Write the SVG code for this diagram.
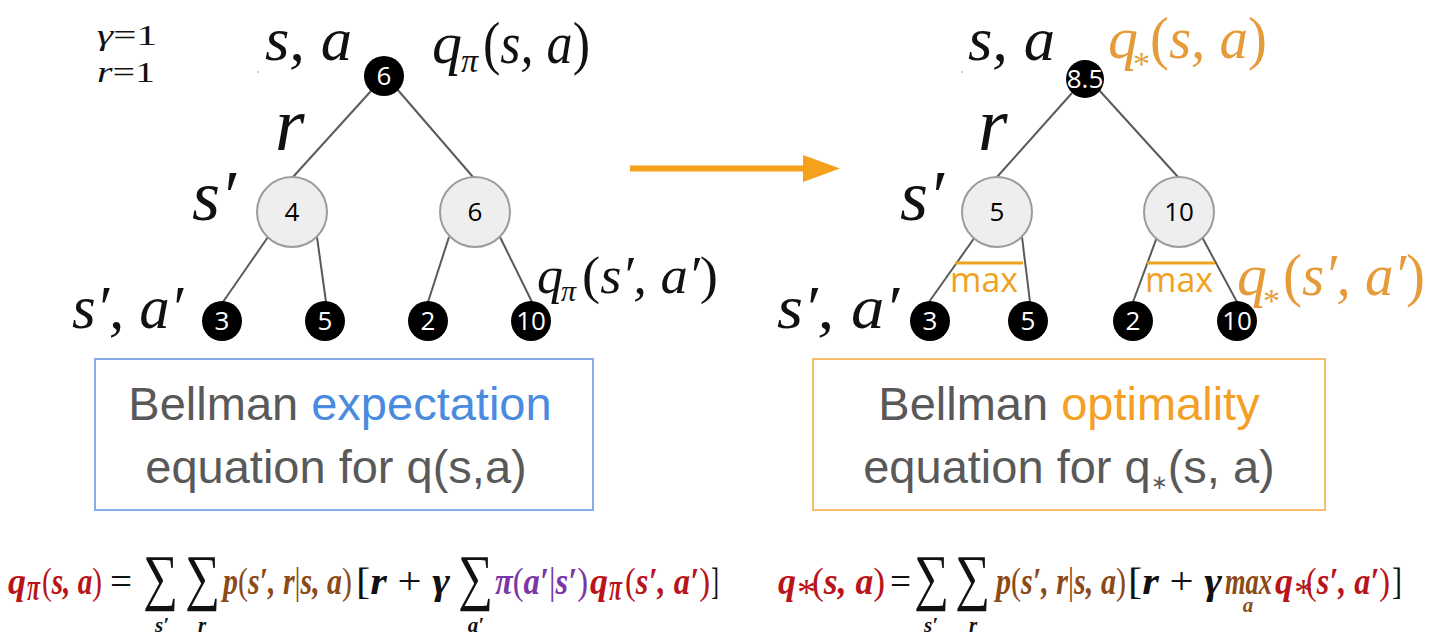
<svg xmlns="http://www.w3.org/2000/svg" width="1440" height="636" viewBox="0 0 1440 636">
<style>
.edge{stroke:#5a5a5a;stroke-width:2;fill:none}
.blk{fill:#000}
.gry{fill:#eeeeee;stroke:#9c9c9c;stroke-width:2}
.num{font-family:"Open Sans","Liberation Sans",sans-serif;font-size:26px;text-anchor:middle}
.wn{fill:#fff}
.m{font-family:"Liberation Serif",serif;font-style:italic;fill:#111}
.up{font-style:normal}
.or{fill:#e59b3a}
.maxbar{stroke:#f0a21e;stroke-width:3}
.maxt{font-family:"Open Sans","Liberation Sans",sans-serif;font-size:34px;fill:#f0a21e}
.box{fill:none;stroke-width:2}
.bt{font-family:"Liberation Sans",Arial,sans-serif;font-size:47px;fill:#595959;text-anchor:middle}
.f{font-family:"Liberation Serif",serif;font-style:italic;font-weight:bold;font-size:38px}
.n{font-style:normal;font-weight:normal}
.sig{font-family:"Liberation Serif","DejaVu Serif",serif;font-size:62px;fill:#111}
.sub{font-family:"Liberation Serif",serif;font-style:italic;font-weight:bold;font-size:21px;text-anchor:middle;fill:#111}
.red{fill:#b8141a}
.brn{fill:#8c4a16}
.pur{fill:#7a36a6}
.k{fill:#111}
</style>

<g id="params">
<text class="m" x="97" y="45" font-size="30" textLength="60" lengthAdjust="spacingAndGlyphs">γ<tspan class="up">=1</tspan></text>
<text class="m" x="97" y="82" font-size="30" textLength="58" lengthAdjust="spacingAndGlyphs">r<tspan class="up">=1</tspan></text>
</g>

<g id="connectors">
<line class="edge" x1="371" y1="91" x2="293" y2="177"/>
<line class="edge" x1="397" y1="89" x2="473" y2="177"/>
<line class="edge" x1="268" y1="237" x2="223" y2="302"/>
<line class="edge" x1="317" y1="237" x2="326" y2="302"/>
<line class="edge" x1="449" y1="237" x2="428" y2="302"/>
<line class="edge" x1="500" y1="237" x2="532" y2="302"/>
<line class="edge" x1="1072" y1="93" x2="997" y2="177"/>
<line class="edge" x1="1099" y1="90" x2="1178" y2="177"/>
<line class="edge" x1="975" y1="237" x2="929" y2="302"/>
<line class="edge" x1="1022" y1="237" x2="1030" y2="302"/>
<line class="edge" x1="1157" y1="237" x2="1133" y2="302"/>
<line class="edge" x1="1202" y1="237" x2="1237" y2="302"/>
<g id="arrow">
<line x1="630" y1="168.5" x2="806" y2="168.5" stroke="#f5a11c" stroke-width="6"/>
<polygon points="803,155 840,168.5 803,182" fill="#f5a11c"/>
</g>
</g>

<g id="left-tree">
<circle cx="258" cy="72" r="1" fill="#bbb"/>
<text class="m" x="265" y="60" font-size="62" textLength="87" lengthAdjust="spacingAndGlyphs">s, a</text>
<text class="m" x="432" y="63" font-size="60">q</text>
<text class="m" x="461" y="72" font-size="34">π</text>
<text class="m" x="483" y="63" font-size="60" textLength="107" lengthAdjust="spacingAndGlyphs"><tspan class="up">(</tspan>s, a<tspan class="up">)</tspan></text>
<text class="m" x="275" y="150" font-size="76">r</text>
<text class="m" x="192" y="220" font-size="72">s′</text>
<text class="m" x="72" y="328" font-size="62" textLength="111" lengthAdjust="spacingAndGlyphs">s′, a′</text>
<text class="m" x="537" y="293" font-size="52">q</text>
<text class="m" x="561" y="301" font-size="30">π</text>
<text class="m" x="582" y="293" font-size="52" textLength="136" lengthAdjust="spacingAndGlyphs"><tspan class="up">(</tspan>s′, a′<tspan class="up">)</tspan></text>
<g id="L-root"><circle class="blk" cx="384" cy="76" r="20"/><text class="num wn" x="384" y="85">6</text></g>
<g id="L-s1"><circle class="gry" cx="292" cy="212" r="35"/><text class="num" x="292" y="221">4</text></g>
<g id="L-s2"><circle class="gry" cx="475" cy="212" r="35"/><text class="num" x="475" y="221">6</text></g>
<g id="L-a1"><circle class="blk" cx="222" cy="321" r="20"/><text class="num wn" x="222" y="330">3</text></g>
<g id="L-a2"><circle class="blk" cx="325" cy="321" r="20"/><text class="num wn" x="325" y="330">5</text></g>
<g id="L-a3"><circle class="blk" cx="428" cy="321" r="20"/><text class="num wn" x="428" y="330">2</text></g>
<g id="L-a4"><circle class="blk" cx="531" cy="321" r="20"/><text class="num wn" x="531" y="330">10</text></g>
</g>

<g id="right-tree">
<circle cx="962" cy="72" r="1" fill="#bbb"/>
<text class="m" x="968" y="60" font-size="62" textLength="87" lengthAdjust="spacingAndGlyphs">s, a</text>
<text class="m or" x="1108" y="58" font-size="60">q</text>
<text class="m or up" x="1133" y="75" font-size="34">*</text>
<text class="m or" x="1150" y="58" font-size="60" textLength="117" lengthAdjust="spacingAndGlyphs"><tspan class="up">(</tspan>s, a<tspan class="up">)</tspan></text>
<text class="m" x="978" y="150" font-size="76">r</text>
<text class="m" x="900" y="220" font-size="72">s′</text>
<text class="m" x="777" y="328" font-size="62" textLength="122" lengthAdjust="spacingAndGlyphs">s′, a′</text>
<text class="m or" x="1237" y="295" font-size="60">q</text>
<text class="m or up" x="1263" y="312" font-size="34">*</text>
<text class="m or" x="1283" y="295" font-size="60" textLength="142" lengthAdjust="spacingAndGlyphs"><tspan class="up">(</tspan>s′, a′<tspan class="up">)</tspan></text>
<line class="maxbar" x1="955" y1="263" x2="1023" y2="263"/>
<line class="maxbar" x1="1147" y1="263" x2="1215" y2="263"/>
<text class="maxt" x="950" y="292" textLength="68" lengthAdjust="spacingAndGlyphs">max</text>
<text class="maxt" x="1145" y="292" textLength="68" lengthAdjust="spacingAndGlyphs">max</text>
<g id="R-root"><circle class="blk" cx="1085" cy="79" r="19"/><text class="num wn" x="1085" y="88">8.5</text></g>
<g id="R-s1"><circle class="gry" cx="997" cy="212" r="35"/><text class="num" x="997" y="221">5</text></g>
<g id="R-s2"><circle class="gry" cx="1179" cy="212" r="35"/><text class="num" x="1179" y="221">10</text></g>
<g id="R-a1"><circle class="blk" cx="930" cy="321" r="20"/><text class="num wn" x="930" y="330">3</text></g>
<g id="R-a2"><circle class="blk" cx="1028" cy="321" r="20"/><text class="num wn" x="1028" y="330">5</text></g>
<g id="R-a3"><circle class="blk" cx="1133" cy="321" r="20"/><text class="num wn" x="1133" y="330">2</text></g>
<g id="R-a4"><circle class="blk" cx="1237" cy="321" r="20"/><text class="num wn" x="1237" y="330">10</text></g>
</g>

<g id="box-expectation">
<rect class="box" x="95" y="359" width="498" height="151" stroke="#86acE4"/>
<text class="bt" x="340" y="420">Bellman <tspan fill="#4a8be0">expectation</tspan></text>
<text class="bt" x="336" y="483">equation for q(s,a)</text>
</g>

<g id="box-optimality">
<rect class="box" x="813" y="359" width="512" height="151" stroke="#f6be6c"/>
<text class="bt" x="1069" y="420">Bellman <tspan fill="#f4a024">optimality</tspan></text>
<text class="bt" x="1069" y="483">equation for q<tspan font-size="20" dy="6">∗</tspan><tspan dy="-6">(s, a)</tspan></text>
</g>

<g id="formula-expectation">
<text class="f red" x="8" y="594" textLength="18" lengthAdjust="spacingAndGlyphs">q</text>
<text class="f red" x="27" y="600" font-size="22" textLength="13" lengthAdjust="spacingAndGlyphs">π</text>
<text class="f red" x="42" y="594" textLength="60" lengthAdjust="spacingAndGlyphs"><tspan class="n">(</tspan>s, a<tspan class="n">)</tspan></text>
<text class="f k n" x="110" y="594" textLength="22" lengthAdjust="spacingAndGlyphs">=</text>
<text class="sig" x="143" y="598" textLength="35" lengthAdjust="spacingAndGlyphs">∑</text>
<text class="sub" x="162" y="632">s′</text>
<text class="sig" x="185" y="598" textLength="35" lengthAdjust="spacingAndGlyphs">∑</text>
<text class="sub" x="202" y="632">r</text>
<text class="f brn" x="223" y="594" textLength="129" lengthAdjust="spacingAndGlyphs">p<tspan class="n">(</tspan>s′, r<tspan class="n">|</tspan>s, a<tspan class="n">)</tspan></text>
<text class="f k" x="356" y="594" textLength="94" lengthAdjust="spacingAndGlyphs"><tspan class="n">[</tspan>r <tspan class="n">+</tspan> γ</text>
<text class="sig" x="458" y="598" textLength="35" lengthAdjust="spacingAndGlyphs">∑</text>
<text class="sub" x="476" y="632">a′</text>
<text class="f pur" x="495" y="594" textLength="93" lengthAdjust="spacingAndGlyphs">π<tspan class="n">(</tspan>a′<tspan class="n">|</tspan>s′<tspan class="n">)</tspan></text>
<text class="f red" x="590" y="594" textLength="18" lengthAdjust="spacingAndGlyphs">q</text>
<text class="f red" x="609" y="600" font-size="22" textLength="13" lengthAdjust="spacingAndGlyphs">π</text>
<text class="f red" x="625" y="594" textLength="85" lengthAdjust="spacingAndGlyphs"><tspan class="n">(</tspan>s′, a′<tspan class="n">)</tspan></text>
<text class="f k n" x="711" y="594" textLength="8" lengthAdjust="spacingAndGlyphs">]</text>
</g>

<g id="formula-optimality">
<text class="f red" x="778" y="594" textLength="18" lengthAdjust="spacingAndGlyphs">q</text>
<text class="f red n" x="797" y="605" font-size="19">*</text>
<text class="f red" x="812" y="594" textLength="73" lengthAdjust="spacingAndGlyphs"><tspan class="n">(</tspan>s, a<tspan class="n">)</tspan></text>
<text class="f k n" x="890" y="594" textLength="21" lengthAdjust="spacingAndGlyphs">=</text>
<text class="sig" x="914" y="598" textLength="35" lengthAdjust="spacingAndGlyphs">∑</text>
<text class="sub" x="931" y="632">s′</text>
<text class="sig" x="955" y="598" textLength="35" lengthAdjust="spacingAndGlyphs">∑</text>
<text class="sub" x="973" y="632">r</text>
<text class="f brn" x="996" y="594" textLength="130" lengthAdjust="spacingAndGlyphs">p<tspan class="n">(</tspan>s′, r<tspan class="n">|</tspan>s, a<tspan class="n">)</tspan></text>
<text class="f k" x="1128" y="594" textLength="94" lengthAdjust="spacingAndGlyphs"><tspan class="n">[</tspan>r <tspan class="n">+</tspan> γ</text>
<text class="f brn" x="1225" y="594" textLength="47" lengthAdjust="spacingAndGlyphs">max</text>
<text class="sub brn" x="1248" y="612">a</text>
<text class="f red" x="1275" y="594" textLength="18" lengthAdjust="spacingAndGlyphs">q</text>
<text class="f red n" x="1294" y="605" font-size="19">*</text>
<text class="f red" x="1306" y="594" textLength="84" lengthAdjust="spacingAndGlyphs"><tspan class="n">(</tspan>s′, a′<tspan class="n">)</tspan></text>
<text class="f k n" x="1392" y="594" textLength="10" lengthAdjust="spacingAndGlyphs">]</text>
</g>
</svg>
